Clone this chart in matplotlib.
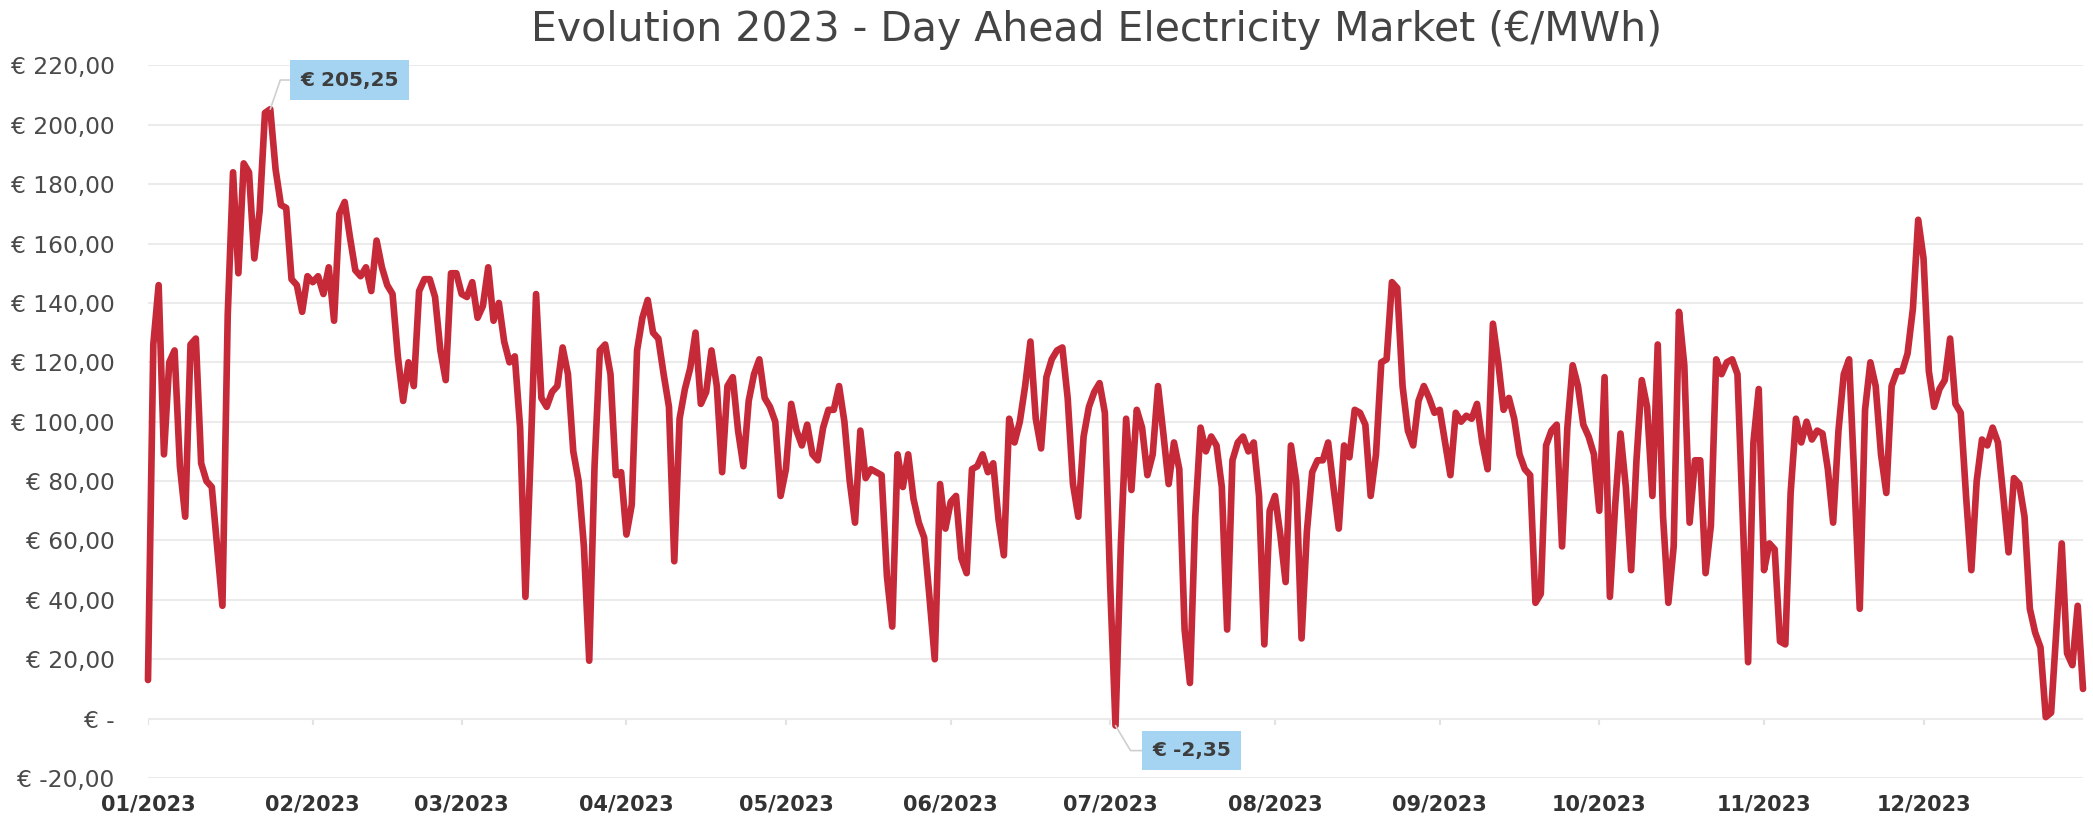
import matplotlib
matplotlib.use("Agg")
import matplotlib.pyplot as plt
import numpy as np
import pandas as pd

# ---- data (€/MWh, daily, 2023) ----
jan = [13, 126, 146, 89, 120, 124, 85, 68, 126, 128, 86, 80, 78, 58, 38, 136, 184, 150, 187, 184,
       155, 171, 204, 205.25, 185, 173, 172, 148, 146, 137, 149]
feb = [147, 149, 143, 152, 134, 170, 174, 162, 151, 149, 152, 144, 161, 152, 146, 143, 122, 107, 120, 112,
       144, 148, 148, 142, 124, 114, 150, 150]
mar = [143, 142, 147, 135, 139, 152, 134, 140, 127, 120, 122, 98, 41, 90, 143, 108, 105, 110, 112, 125,
       116, 90, 80, 58, 19.5, 85, 124, 126, 116, 82, 83]
apr = [62, 72, 124, 135, 141, 130, 128, 116, 105, 53, 101, 111, 118, 130, 106, 110, 124, 112, 83, 112,
       115, 97, 85, 107, 116, 121, 108, 105, 100, 75]
may = [84, 106, 97, 92, 99, 89, 87, 98, 104, 104, 112, 100, 80, 66, 97, 81, 84, 83, 82, 48,
       31, 89, 78, 89, 74, 66, 61, 41, 20, 79, 64]
jun = [73, 75, 54, 49, 84, 85, 89, 83, 86, 67, 55, 101, 93, 100, 112, 127, 101, 91, 115, 121,
       124, 125, 108, 79, 68, 95, 105, 110, 113, 103]
jul = [45, -2.35, 58, 101, 77, 104, 98, 82, 89, 112, 96, 79, 93, 84, 30, 12, 68, 98, 90, 95,
       92, 78, 30, 87, 93, 95, 90, 93, 75, 25, 70]
aug = [75, 62, 46, 92, 80, 27, 63, 83, 87, 87, 93, 78, 64, 92, 88, 104, 103, 99, 75, 89,
       120, 121, 147, 145, 112, 97, 92, 107, 112, 108, 103]
sep = [104, 93, 82, 103, 100, 102, 101, 106, 93, 84, 133, 120, 104, 108, 101, 89, 84, 82, 39, 42,
       92, 97, 99, 58, 98, 119, 112, 99, 95, 89]
oct_ = [70, 115, 41, 72, 96, 78, 50, 87, 114, 105, 75, 126, 68, 39, 58, 137, 119, 66, 87, 87,
        49, 65, 121, 116, 120, 121, 116, 68, 19, 93, 111]
nov = [50, 59, 57, 26, 25, 76, 101, 93, 100, 94, 97, 96, 84, 66, 97, 116, 121, 80, 37, 104,
       120, 112, 89, 76, 112, 117, 117, 123, 138, 168]
dec = [155, 117, 105, 111, 114, 128, 106, 103, 75, 50, 80, 94, 92, 98, 93, 75, 56, 81, 79, 68,
       37, 29, 24, 0.5, 2, 30, 59, 22, 18, 38, 10]

values = np.array(jan + feb + mar + apr + may + jun + jul + aug + sep + oct_ + nov + dec, dtype=float)
dates = pd.date_range("2023-01-01", "2023-12-31", freq="D")
month_starts = pd.date_range("2023-01-01", "2023-12-01", freq="MS")
month_labels = [d.strftime("%m/%Y") for d in month_starts]
y_ticks = np.arange(-20, 221, 20)

title = "Evolution 2023 - Day Ahead Electricity Market (€/MWh)"

LINE = "#c62a39"
GRID = "#ebebeb"
BOX = "#a5d4f2"


def eur(v):
    if v == 0:
        return "€ -"
    return "€ " + f"{v:.2f}".replace(".", ",")


W, H = 2093, 818
fig = plt.figure(figsize=(W / 100, H / 100), dpi=100)
fig.patch.set_facecolor("white")
ax = fig.add_axes([148 / W, 40 / H, (2083 - 148) / W, (752.6 - 40) / H])

ax.plot(dates, values, color=LINE, lw=4.8, solid_joinstyle="round",
        solid_capstyle="round", zorder=3, clip_on=False)

ax.set_xlim(dates[0], dates[-1])
ax.set_ylim(-20, 220)

ax.set_yticks(y_ticks)
ax.set_yticklabels([eur(v) for v in y_ticks])
ax.set_xticks(month_starts)
ax.set_xticklabels(month_labels)

ax.grid(axis="y", color=GRID, lw=1.5, zorder=0)
ax.grid(axis="x", visible=False)
for s in ax.spines.values():
    s.set_visible(False)

ax.tick_params(axis="y", length=0, pad=24, labelsize=16.8, labelcolor="#4a4a4a")
ax.tick_params(axis="x", length=0, pad=12, labelsize=15, labelcolor="#333333")
for t in ax.get_xticklabels():
    t.set_fontweight("bold")

# small month ticks under the zero line
ax.vlines(month_starts, -2.2, 0, color="#e3e3e3", lw=1.5, zorder=1)

fig.text(0.524, 0.963, title, ha="center", va="center", fontsize=29.5, color="#444444")

# annotations for max and min
imax = int(np.argmax(values))
imin = int(np.argmin(values))
ann_kw = dict(textcoords="offset points", ha="center", va="center", fontsize=14.5,
              fontweight="bold", color="#3d3d3d", zorder=5,
              bbox=dict(boxstyle="square,pad=0.5", fc=BOX, ec="none"))
ax.annotate(eur(values[imax]), xy=(dates[imax], values[imax]), xytext=(57, 21),
            arrowprops=dict(arrowstyle="-", color="#cfcfcf", lw=1.2,
                            connectionstyle="angle,angleA=0,angleB=71,rad=0",
                            shrinkA=0, shrinkB=0), annotation_clip=False, **ann_kw)
ax.annotate(eur(values[imin]), xy=(dates[imin], values[imin]), xytext=(55, -18),
            arrowprops=dict(arrowstyle="-", color="#cfcfcf", lw=1.2,
                            connectionstyle="angle,angleA=0,angleB=-59,rad=0",
                            shrinkA=0, shrinkB=0), annotation_clip=False, **ann_kw)

fig.savefig("out.png", dpi=100, facecolor="white")
